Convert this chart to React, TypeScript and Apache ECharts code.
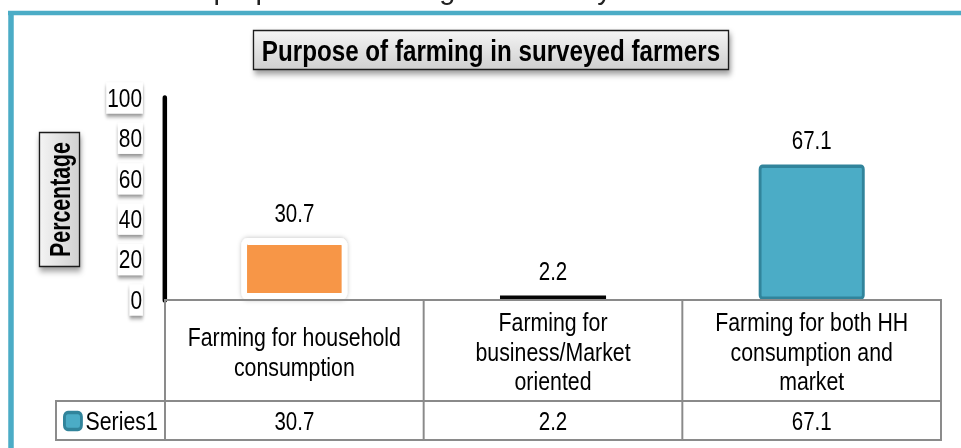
import React, { useEffect, useRef } from "react";
import * as echarts from "echarts";

// ---- data ----
const categories: string[] = [
  "Farming for household\nconsumption",
  "Farming for\nbusiness/Market\noriented",
  "Farming for both HH\nconsumption and\nmarket",
];
const values: number[] = [30.7, 2.2, 67.1];
const seriesName = "Series1";
const yMin = 0;
const yMax = 100;
const yInterval = 20;
const chartTitle = "Purpose of farming in surveyed farmers";
const yAxisTitle = "Percentage";
const topCaption = "illustrated the purpose of farming in the study site";

// ---- styles / layout ----
const barColors = ["#F79646", "#050505", "#4BACC6"];
const FONT = "'Liberation Sans', Arial, Helvetica, sans-serif";
// The reference uses a narrow font; the chart is drawn wider and compressed horizontally.
const K = 0.82;
const PAGE_W = 961;
const PAGE_H = 448;
const W = PAGE_W / K;
const U = (x: number) => x / K; // screen x -> chart x
const GRID_L = U(165);
const GRID_R = U(941);
const GRID_T = 98;
const AXIS_Y = 300;
const ROW1_Y = 401;
const ROW2_Y = 440;
const LEG_L = U(56);
const LINE_C = "#8a8a8a";

export default function App() {
  const ref = useRef<HTMLDivElement>(null);
  useEffect(() => {
    if (!ref.current) return;
    const chart = echarts.init(ref.current, null, { renderer: "svg" });
    const bandW = (GRID_R - GRID_L) / categories.length;
    const tableLines: any[] = [];
    const hl = (x1: number, x2: number, y: number) =>
      tableLines.push({ type: "line", z: 50, silent: true, shape: { x1, y1: y, x2, y2: y }, style: { stroke: LINE_C, lineWidth: 2 } });
    const vl = (x: number, y1: number, y2: number) =>
      tableLines.push({ type: "line", z: 50, silent: true, shape: { x1: x, y1, x2: x, y2 }, style: { stroke: LINE_C, lineWidth: 2.4 } });
    hl(GRID_L, GRID_R, AXIS_Y);
    hl(LEG_L, GRID_R, ROW1_Y);
    hl(LEG_L, GRID_R, ROW2_Y);
    for (let i = 0; i <= categories.length; i++) vl(GRID_L + i * bandW, AXIS_Y - 1, ROW2_Y + 1);
    vl(LEG_L, ROW1_Y - 1, ROW2_Y + 1);

    const grayGrad = (x2: number, y2: number) =>
      new echarts.graphic.LinearGradient(0, 0, x2, y2, [
        { offset: 0, color: "#f4f4f4" },
        { offset: 1, color: "#d0d0d0" },
      ]);

    chart.setOption({
      animation: false,
      backgroundColor: "#ffffff",
      textStyle: { fontFamily: FONT },
      grid: { left: GRID_L, right: W - GRID_R, top: GRID_T, bottom: PAGE_H - AXIS_Y, containLabel: false },
      legend: {
        show: true,
        left: U(63),
        top: 408,
        padding: 0,
        itemWidth: U(17),
        itemHeight: 17,
        itemGap: 6,
        icon: "roundRect",
        itemStyle: { color: "#4BACC6", borderColor: "#31849B", borderWidth: 3.5 },
        textStyle: { fontFamily: FONT, fontSize: 26, color: "#000", padding: [0, 0, 0, 0] },
        data: [seriesName],
      },
      xAxis: [
        {
          type: "category",
          data: categories,
          axisLine: { show: false },
          axisTick: { show: false },
          axisLabel: {
            interval: 0,
            margin: 51.5,
            verticalAlign: "middle",
            fontFamily: FONT,
            fontSize: 26,
            lineHeight: 29.5,
            color: "#000",
            align: "center",
          },
        },
        {
          type: "category",
          position: "bottom",
          data: values.map((v) => v.toFixed(1)),
          axisLine: { show: false },
          axisTick: { show: false },
          axisLabel: {
            interval: 0,
            margin: 121,
            verticalAlign: "middle",
            fontFamily: FONT,
            fontSize: 25,
            color: "#000",
          },
        },
      ],
      yAxis: {
        type: "value",
        min: yMin,
        max: yMax,
        interval: yInterval,
        axisLine: { show: true, lineStyle: { color: "#000", width: 5.5 } },
        axisTick: { show: false },
        splitLine: { show: false },
        axisLabel: {
          margin: 27,
          fontFamily: FONT,
          fontSize: 25.5,
          color: "#000",
          backgroundColor: "#ffffff",
          padding: [3, 1, 2, 1],
          shadowColor: "rgba(0,0,0,0.45)",
          shadowBlur: 4,
          shadowOffsetY: 3,
        },
      },
      series: [
        {
          name: seriesName,
          type: "bar",
          xAxisIndex: 0,
          barWidth: "41%",
          itemStyle: { color: "#4BACC6" },
          label: {
            show: true,
            position: "top",
            distance: 12,
            fontFamily: FONT,
            fontSize: 25,
            color: "#000",
            formatter: (p: any) => Number(p.value).toFixed(1),
          },
          data: values.map((v, i) => ({
            value: v,
            itemStyle:
              i === 0
                ? { color: barColors[0], borderColor: "#ffffff", borderWidth: 7, borderRadius: 4, shadowColor: "rgba(0,0,0,0.25)", shadowBlur: 5 }
                : i === 2
                ? { color: barColors[2], borderColor: "#31849B", borderWidth: 3.5, borderRadius: 3 }
                : { color: barColors[i] },
          })),
        },
      ],
      graphic: [
        {
          type: "line",
          z: 0,
          silent: true,
          shape: { x1: U(8), y1: 13, x2: W + 10, y2: 13 },
          style: { stroke: "#4BACC6", lineWidth: 4.5 },
        },
        {
          type: "line",
          z: 0,
          silent: true,
          shape: { x1: U(11), y1: 11, x2: U(11), y2: PAGE_H + 10 },
          style: { stroke: "#4BACC6", lineWidth: U(5.5) },
        },
        {
          type: "text",
          z: 1,
          x: U(33),
          y: 3,
          scaleX: 1 / K,
          style: { text: topCaption, fontFamily: FONT, fontSize: 29, fill: "#222", verticalAlign: "bottom", align: "left" },
        },
        {
          type: "rect",
          z: 5,
          shape: { x: U(253.5), y: 30.5, width: U(475), height: 39 },
          style: {
            fill: grayGrad(0, 1),
            stroke: "#1a1a1a",
            lineWidth: 1.6,
            shadowBlur: 6,
            shadowOffsetX: 2,
            shadowOffsetY: 4,
            shadowColor: "rgba(0,0,0,0.4)",
          },
        },
        {
          type: "text",
          z: 6,
          x: U(491),
          y: 51,
          style: { text: chartTitle, fontFamily: FONT, fontWeight: "bold", fontSize: 29.5, fill: "#000", align: "center", verticalAlign: "middle" },
        },
        {
          type: "rect",
          z: 5,
          shape: { x: U(39.5), y: 132.5, width: U(40), height: 134 },
          style: {
            fill: grayGrad(1, 0),
            stroke: "#1a1a1a",
            lineWidth: 1.6,
            shadowBlur: 6,
            shadowOffsetX: 1,
            shadowOffsetY: 4,
            shadowColor: "rgba(0,0,0,0.4)",
          },
        },
        {
          type: "text",
          z: 6,
          x: U(60),
          y: 199.5,
          rotation: Math.PI / 2,
          scaleX: K,
          scaleY: 1.1 / K,
          style: { text: yAxisTitle, fontFamily: FONT, fontWeight: "bold", fontSize: 26, fill: "#000", align: "center", verticalAlign: "middle" },
        },
        ...tableLines,
      ],
    });
    return () => chart.dispose();
  }, []);
  return (
    <div style={{ position: "absolute", left: 0, top: 0, width: PAGE_W, height: PAGE_H, overflow: "hidden", background: "#fff" }}>
      <div
        ref={ref}
        style={{ width: W, height: PAGE_H, transform: `scaleX(${K})`, transformOrigin: "0 0" }}
      />
    </div>
  );
}
